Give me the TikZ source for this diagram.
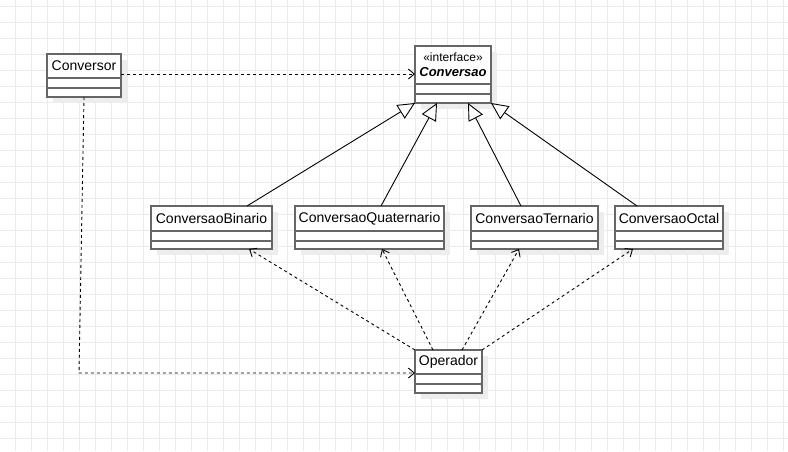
\documentclass[tikz,border=0pt]{standalone}
\usepackage{fontspec}
\setmainfont{Liberation Sans}
\usetikzlibrary{arrows.meta,calc,shadows}
\definecolor{gridline}{HTML}{EBEBEB}
\definecolor{boxline}{HTML}{666666}
\definecolor{boxshadow}{HTML}{EDEDED}

% a UML class: #1 name, #2 left, #3 top, #4 width, #5 height, #6 header height
\newcommand\umlbox[6]{%
  \node[umlclass, minimum width=#4pt, minimum height=#5pt] (#1) at (#2,#3) {};
  \draw[divider] ($(#1.north west)+(0,#6)$) -- ($(#1.north east)+(0,#6)$);
  \draw[divider] ($(#1.north west)+(0,#6+10)$) -- ($(#1.north east)+(0,#6+10)$);
}

\begin{document}
\begin{tikzpicture}[x=1pt,y=-1pt,
  umlclass/.style={draw=boxline, line width=1.3pt, fill=white, inner sep=0pt, outer sep=0pt,
    anchor=north west,
    general shadow={fill=boxshadow, shadow xshift=6pt, shadow yshift=-6pt}},
  classname/.style={font=\fontsize{14}{16}\selectfont, inner sep=0pt},
  stereo/.style={font=\fontsize{12}{14}\selectfont, inner sep=0pt},
  divider/.style={draw=boxline, line width=1.3pt},
  depend/.style={draw=black, line width=0.9pt, dash pattern=on 3pt off 3pt,
    -{Straight Barb[length=6pt,width=10pt]}},
  realize/.style={draw=black, line width=0.9pt,
    -{Triangle[open,length=17pt,width=16pt,fill=white]}}
]
\useasboundingbox (0,0) rectangle (788,451);
\fill[white] (0,0) rectangle (788,451);

% background grid
\foreach \gx in {15.5,31.5,...,787} \draw[gridline, line width=1pt] (\gx,0) -- (\gx,451);
\foreach \gy in {6.7,22.7,...,451} \draw[gridline, line width=1pt] (0,\gy) -- (788,\gy);

% classes
\umlbox{conversor}{47}{54}{74}{43}{24}
\node[classname] at ($(conversor.north)+(0,12)$) {Conversor};

\umlbox{conversao}{415}{46}{76}{57}{38}
\node[stereo] at ($(conversao.north)+(0,11)$) {«interface»};
\node[classname, font=\bfseries\itshape\fontsize{13}{15}\selectfont]
  at ($(conversao.north)+(0,26)$) {Conversao};

\umlbox{binario}{151}{206}{121}{43}{25}
\node[classname] at ($(binario.north)+(0,12.5)$) {ConversaoBinario};

\umlbox{quaternario}{295}{206}{149}{43}{25}
\node[classname] at ($(quaternario.north)+(0,12.5)$) {ConversaoQuaternario};

\umlbox{ternario}{471}{206}{127}{43}{25}
\node[classname] at ($(ternario.north)+(0,12.5)$) {ConversaoTernario};

\umlbox{octal}{615}{206}{108}{43}{25}
\node[classname] at ($(octal.north)+(0,12.5)$) {ConversaoOctal};

\umlbox{operador}{415}{350}{67}{43}{24}
\node[classname] at ($(operador.north)+(0,12)$) {Operador};

% Conversor uses Conversao and Operador
\draw[depend] ($(conversor.north east)+(0,20)$) -- ($(conversao.north west)+(0,28)$);
\coordinate (bend) at (79,373);
\draw[depend] ($(conversor.south west)+(37,0)$) -- (bend) -- ($(operador.north west)+(0,23)$);

% implementations of the interface
\draw[realize] ($(binario.north west)+(96,0)$) -- (conversao.south west);
\draw[realize] ($(quaternario.north west)+(86,0)$) -- ($(conversao.south west)+(22,0)$);
\draw[realize] ($(ternario.north west)+(50,0)$) -- ($(conversao.south west)+(53,0)$);
\draw[realize] ($(octal.north west)+(22,0)$) -- (conversao.south east);

% Operador depends on each converter
\draw[depend] (operador.north west) -- ($(binario.south west)+(98,0)$);
\draw[depend] ($(operador.north west)+(18,0)$) -- ($(quaternario.south west)+(87,0)$);
\draw[depend] ($(operador.north west)+(47,0)$) -- ($(ternario.south west)+(48,0)$);
\draw[depend] (operador.north east) -- ($(octal.south west)+(18,0)$);
\end{tikzpicture}
\end{document}
